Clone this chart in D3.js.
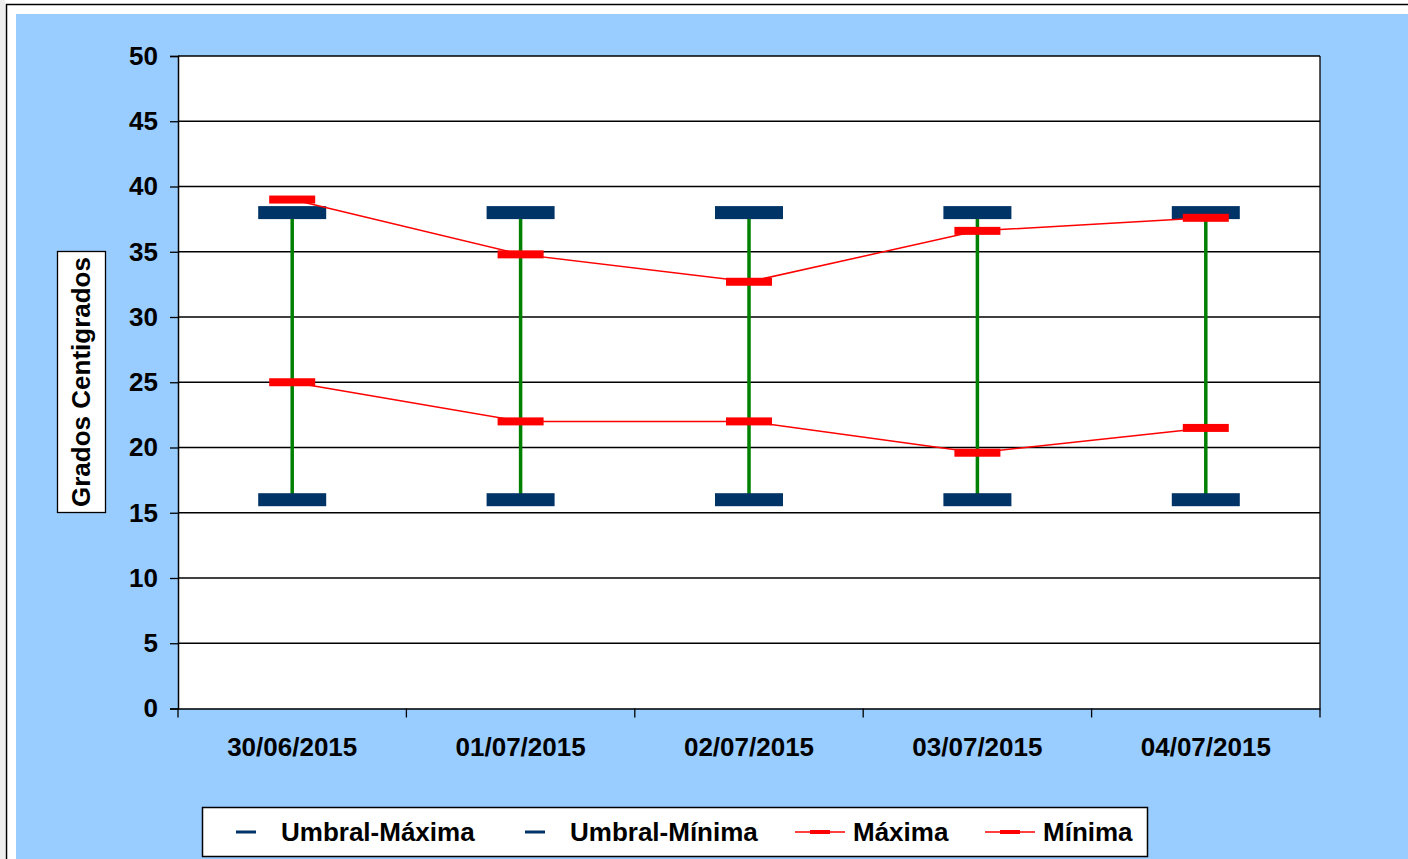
<!DOCTYPE html>
<html><head><meta charset="utf-8">
<script src="https://cdn.jsdelivr.net/npm/d3@7"></script>
<style>
html,body{margin:0;padding:0;background:#fff;}
svg{display:block;font-family:"Liberation Sans",Arial,sans-serif;font-weight:bold;}
</style></head>
<body>
<svg id="chart" width="1408" height="859"></svg>
<script>
const categories = ["30/06/2015","01/07/2015","02/07/2015","03/07/2015","04/07/2015"];
const umbralMaxima = [38,38,38,38,38];
const umbralMinima = [16,16,16,16,16];
const maxima = [39,34.8,32.7,36.6,37.6];
const minima = [25,22,22,19.6,21.5];
const yTicks = [0,5,10,15,20,25,30,35,40,45,50];
const seriesNames = ["Umbral-Máxima","Umbral-Mínima","Máxima","Mínima"];

const FS = 26;
const svg = d3.select("#chart");
const W = 1408, H = 859;
svg.append("rect").attr("x",0).attr("y",0).attr("width",5).attr("height",H).attr("fill","#eeeeee");
svg.append("rect").attr("x",6.5).attr("y",4.5).attr("width",W+10).attr("height",H+10).attr("fill","#fff").attr("stroke","#000").attr("stroke-width",1.5);
svg.append("rect").attr("x",16).attr("y",14).attr("width",W).attr("height",H).attr("fill","#99CCFF");

const m = {l:178, r:1320, t:56, b:708.5};
const x = d3.scaleBand().domain(categories).range([m.l,m.r]).paddingInner(0).paddingOuter(0);
const y = d3.scaleLinear().domain([0,50]).range([m.b,m.t]);
const cx = d => x(d)+x.bandwidth()/2;

svg.append("rect").attr("x",m.l).attr("y",m.t).attr("width",m.r-m.l).attr("height",m.b-m.t).attr("fill","#fff");

// gridlines
svg.append("g").selectAll("line").data(yTicks.filter(v=>v>0)).join("line")
  .attr("x1",m.l).attr("x2",m.r).attr("y1",d=>y(d)).attr("y2",d=>y(d))
  .attr("stroke","#000").attr("stroke-width",1.3);
svg.append("line").attr("x1",m.r).attr("x2",m.r).attr("y1",m.t).attr("y2",m.b).attr("stroke","#000").attr("stroke-width",1.3);

// y axis
const yAxis = svg.append("g").attr("transform",`translate(${m.l},0)`)
  .call(d3.axisLeft(y).tickValues(yTicks).tickSize(8).tickPadding(12));
yAxis.select(".domain").attr("stroke","#000").attr("stroke-width",1.5);
yAxis.selectAll(".tick line").attr("stroke","#000").attr("stroke-width",1.3);
yAxis.selectAll("text").attr("font-size",FS).attr("font-weight","bold").attr("fill","#000")
  .attr("font-family","Liberation Sans, Arial, sans-serif");

// x axis
const xAxis = svg.append("g").attr("transform",`translate(0,${m.b})`)
  .call(d3.axisBottom(x).tickSize(0).tickPadding(29));
xAxis.select(".domain").attr("stroke","#000").attr("stroke-width",1.5);
xAxis.selectAll("text").attr("font-size",FS).attr("font-weight","bold").attr("fill","#000")
  .attr("font-family","Liberation Sans, Arial, sans-serif");
const bounds = categories.map(c=>x(c)).concat([m.r]);
svg.append("g").selectAll("line").data(bounds).join("line")
  .attr("x1",d=>d).attr("x2",d=>d).attr("y1",m.b).attr("y2",m.b+9)
  .attr("stroke","#000").attr("stroke-width",1.3);

// y title
const tg = svg.append("g").attr("transform","translate(81,382) rotate(-90)");
tg.append("rect").attr("x",-130.5).attr("y",-23.5).attr("width",261).attr("height",48).attr("fill","#fff").attr("stroke","#000").attr("stroke-width",1.3);
tg.append("text").attr("text-anchor","middle").attr("dy","0.36em").attr("font-size",FS).text("Grados Centigrados");

// high-low lines
svg.append("g").selectAll("line").data(categories).join("line")
  .attr("x1",d=>cx(d)).attr("x2",d=>cx(d))
  .attr("y1",(d,i)=>y(umbralMaxima[i])).attr("y2",(d,i)=>y(umbralMinima[i]))
  .attr("stroke","#008000").attr("stroke-width",3.5);

// umbral markers
[umbralMaxima, umbralMinima].forEach(arr=>{
  svg.append("g").selectAll("rect").data(categories).join("rect")
    .attr("x",d=>cx(d)-34).attr("width",68)
    .attr("y",(d,i)=>y(arr[i])-6.5).attr("height",13)
    .attr("fill","#003366");
});

// red lines + markers
const line = d3.line().x(d=>cx(d[0])).y(d=>y(d[1]));
[maxima, minima].forEach(arr=>{
  svg.append("path").datum(categories.map((c,i)=>[c,arr[i]])).attr("d",line)
    .attr("fill","none").attr("stroke","#FF0000").attr("stroke-width",1.5);
  svg.append("g").selectAll("rect").data(categories).join("rect")
    .attr("x",d=>cx(d)-23).attr("width",46)
    .attr("y",(d,i)=>y(arr[i])-4).attr("height",8)
    .attr("fill","#FF0000");
});

// legend
const lg = svg.append("g");
lg.append("rect").attr("x",202.5).attr("y",807.5).attr("width",945).attr("height",49).attr("fill","#fff").attr("stroke","#000").attr("stroke-width",1.5);
const legItems = [
  {name:seriesNames[0], x:236, type:"navy", tx:281},
  {name:seriesNames[1], x:525, type:"navy", tx:570},
  {name:seriesNames[2], x:795, type:"red", tx:853},
  {name:seriesNames[3], x:985, type:"red", tx:1043}
];
const ly = 832;
legItems.forEach(it=>{
  if(it.type==="navy"){
    lg.append("line").attr("x1",it.x).attr("x2",it.x+20).attr("y1",ly).attr("y2",ly).attr("stroke","#003366").attr("stroke-width",3);
  } else {
    lg.append("line").attr("x1",it.x).attr("x2",it.x+50).attr("y1",ly).attr("y2",ly).attr("stroke","#FF0000").attr("stroke-width",1.5);
    lg.append("rect").attr("x",it.x+15).attr("width",20).attr("y",ly-2).attr("height",4).attr("fill","#FF0000");
  }
  lg.append("text").attr("x",it.tx).attr("y",ly).attr("dy","0.36em").attr("font-size",FS).text(it.name);
});
</script>
</body></html>
